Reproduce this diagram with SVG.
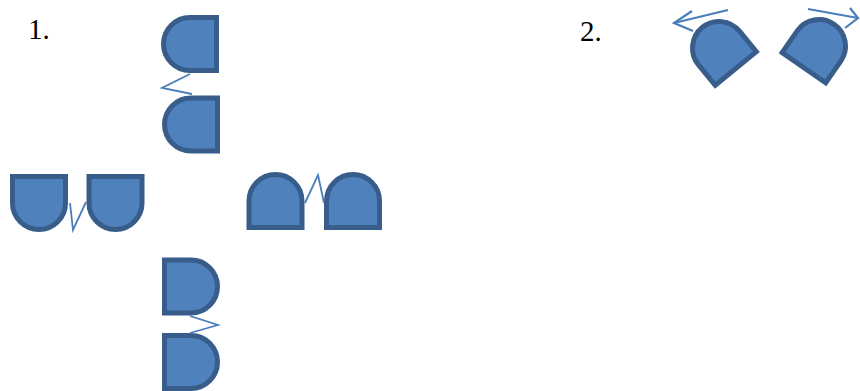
<svg xmlns="http://www.w3.org/2000/svg" width="860" height="391" viewBox="0 0 860 391">
<style>
.lbl{font-family:"Liberation Serif","Times New Roman",serif;font-size:29px;fill:#000}
.sh{fill:#4f81bd;stroke:#385d8a;stroke-width:5;stroke-linejoin:miter}
.zz{fill:none;stroke:#4a7ebb;stroke-width:1.8}
.ar{fill:none;stroke:#4a7ebb;stroke-width:2.2}
</style>
<defs>
<path id="d" d="M-26.5,-26.5 H0 A26.5,26.5 0 0 1 0,26.5 H-26.5 Z"/>
</defs>
<g id="label1"><text class="lbl" x="28" y="39">1.</text></g>
<g id="label2"><text class="lbl" x="580" y="41">2.</text></g>
<g id="top1"><use href="#d" class="sh" transform="translate(190,44) rotate(180)"/></g>
<g id="top2"><use href="#d" class="sh" transform="translate(191,124.5) rotate(180)"/></g>
<g id="left1"><use href="#d" class="sh" transform="translate(39,203) rotate(90)"/></g>
<g id="left2"><use href="#d" class="sh" transform="translate(115.5,203) rotate(90)"/></g>
<g id="arch1"><use href="#d" class="sh" transform="translate(275.5,201) rotate(-90)"/></g>
<g id="arch2"><use href="#d" class="sh" transform="translate(353,201) rotate(-90)"/></g>
<g id="bottom1"><use href="#d" class="sh" transform="translate(191,286.5)"/></g>
<g id="bottom2"><use href="#d" class="sh" transform="translate(191,362)"/></g>
<g id="rotLeft"><use href="#d" class="sh" transform="translate(719,48) rotate(-129.4)"/></g>
<g id="rotRight"><use href="#d" class="sh" transform="translate(819,46) rotate(-55.3)"/></g>
<g id="connectors">
<polyline class="zz" points="190,74 162,88 192,94"/>
<polyline class="zz" points="70,203 73,230 86,202"/>
<polyline class="zz" points="305,203 318,175 324,203"/>
<polyline class="zz" points="190,316 218,325 190,333"/>
<line class="ar" x1="728" y1="10" x2="674" y2="23"/>
<polyline class="ar" points="692,11 674,23 693,31"/>
<line class="ar" x1="808" y1="9" x2="858" y2="18"/>
<polyline class="ar" points="850,8 858,18 845,28"/>
</g>
</svg>
